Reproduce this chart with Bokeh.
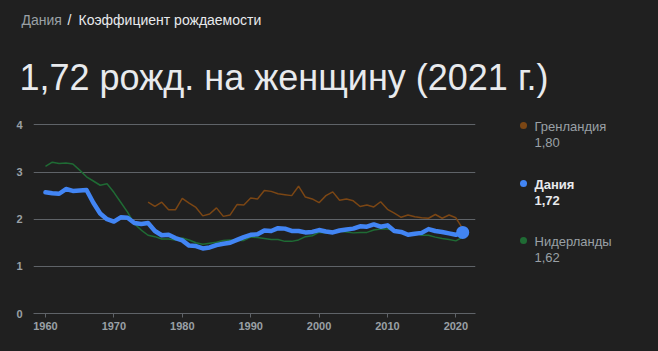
from bokeh.plotting import figure
from bokeh.models import Range1d, FixedTicker
from bokeh.layouts import column, row
from bokeh.core.properties import value
from bokeh.embed import file_html
from bokeh.resources import INLINE

# ---------------- data ----------------
years = list(range(1960, 2022))
denmark = [2.57, 2.55, 2.54, 2.64, 2.60, 2.61, 2.62, 2.35, 2.12, 2.00,
           1.95, 2.04, 2.03, 1.92, 1.90, 1.92, 1.75, 1.66, 1.67, 1.60,
           1.55, 1.44, 1.43, 1.38, 1.40, 1.45, 1.48, 1.50, 1.56, 1.62,
           1.67, 1.68, 1.76, 1.75, 1.81, 1.80, 1.75, 1.75, 1.72, 1.73,
           1.77, 1.74, 1.72, 1.76, 1.78, 1.80, 1.85, 1.84, 1.89, 1.84,
           1.87, 1.75, 1.73, 1.67, 1.69, 1.71, 1.79, 1.75, 1.73, 1.70,
           1.67, 1.72]
netherlands = [3.12, 3.21, 3.18, 3.19, 3.17, 3.04, 2.90, 2.81, 2.72, 2.75,
               2.57, 2.36, 2.15, 1.90, 1.77, 1.66, 1.63, 1.58, 1.58, 1.56,
               1.60, 1.56, 1.50, 1.47, 1.49, 1.51, 1.55, 1.56, 1.55, 1.55,
               1.62, 1.61, 1.59, 1.57, 1.57, 1.53, 1.53, 1.56, 1.63, 1.65,
               1.72, 1.71, 1.73, 1.75, 1.73, 1.71, 1.72, 1.72, 1.77, 1.79,
               1.79, 1.76, 1.72, 1.68, 1.71, 1.66, 1.66, 1.62, 1.59, 1.57,
               1.54, 1.62]
greenland_years = list(range(1975, 2022))
greenland = [2.36, 2.27, 2.36, 2.20, 2.20, 2.44, 2.34, 2.25, 2.07, 2.11,
             2.24, 2.06, 2.09, 2.31, 2.30, 2.45, 2.43, 2.61, 2.59, 2.54,
             2.52, 2.50, 2.70, 2.47, 2.43, 2.35, 2.50, 2.58, 2.40, 2.43,
             2.39, 2.27, 2.30, 2.26, 2.37, 2.21, 2.13, 2.04, 2.09, 2.05,
             2.03, 2.02, 2.10, 2.02, 2.09, 2.03, 1.80]
y_ticks = [0, 1, 2, 3, 4]
x_ticks = [1960, 1970, 1980, 1990, 2000, 2010, 2020]
series_names = ["Гренландия", "Дания", "Нидерланды"]
header_country = "Дания"
header_topic = "Коэффициент рождаемости"
title_text = "1,72 рожд. на женщину (2021 г.)"

# ---------------- style ----------------
BG = "#202020"
GRID = "#5f6368"
TXT = "#e8eaed"
MUTED = "#9aa0a6"
BLUE = "#4285f4"
BROWN = "#7b4614"
GREEN = "#1f6b34"
FONT = value("Liberation Sans")
BGSTYLE = {"background-color": BG}

W = 658
HEAD_H = 105
CHART_W = 500
BODY_H = 351 - HEAD_H

# chart frame (absolute page px)
FL, FR = 33, 475
FT_ABS, FB_ABS = 110, 313
PX_PER_UNIT = 47.15
Y_TOP = (FB_ABS - FT_ABS) / PX_PER_UNIT


def blank_fig(w, h, xr, yr, **kw):
    f = figure(width=w, height=h, output_backend="svg", toolbar_location=None,
               title=None, x_range=Range1d(*xr), y_range=Range1d(*yr),
               min_border=0, background_fill_color=BG, border_fill_color=BG,
               outline_line_color=None, styles=BGSTYLE, **kw)
    f.axis.visible = False
    f.grid.grid_line_color = None
    return f


# ---------------- header ----------------
head = blank_fig(W, HEAD_H, (0, W), (HEAD_H, 0),
                 min_border_left=0, min_border_right=0,
                 min_border_top=0, min_border_bottom=0)
head.text(x=[21], y=[19], text=[header_country], text_color=MUTED,
          text_font=FONT, text_font_size="14px", text_baseline="middle")
head.text(x=[67], y=[19], text=["/"], text_color=TXT,
          text_font=FONT, text_font_size="14px", text_baseline="middle")
head.text(x=[78], y=[19], text=[header_topic], text_color=TXT,
          text_font=FONT, text_font_size="14px", text_baseline="middle")
head.text(x=[19], y=[77], text=[title_text], text_color=TXT,
          text_font=FONT, text_font_size="36px", text_baseline="middle")

# ---------------- chart ----------------
p = figure(width=CHART_W, height=BODY_H, output_backend="svg", toolbar_location=None,
           title=None, x_range=Range1d(1958.25, 2022.87), y_range=Range1d(0, Y_TOP),
           min_border_left=FL, min_border_right=CHART_W - FR,
           min_border_top=FT_ABS - HEAD_H, min_border_bottom=351 - FB_ABS,
           background_fill_color=BG, border_fill_color=BG,
           outline_line_color=None, styles=BGSTYLE)

p.xaxis.ticker = FixedTicker(ticks=x_ticks)
p.yaxis.ticker = FixedTicker(ticks=y_ticks)
p.xaxis.axis_line_color = GRID
p.xaxis.major_tick_line_color = GRID
p.xaxis.major_tick_out = 4
p.xaxis.major_tick_in = 0
p.xaxis.minor_tick_line_color = None
p.xaxis.major_label_standoff = 4
p.yaxis.axis_line_color = None
p.yaxis.major_tick_line_color = None
p.yaxis.minor_tick_line_color = None
p.yaxis.major_label_standoff = 5
for ax in (p.xaxis, p.yaxis):
    ax.major_label_text_color = MUTED
    ax.major_label_text_font = "Liberation Sans"
    ax.major_label_text_font_size = "11px"
    ax.major_label_text_font_style = "bold"
p.xgrid.grid_line_color = None
p.ygrid.grid_line_color = GRID
p.ygrid.grid_line_width = 1

p.line(greenland_years, greenland, line_color=BROWN, line_width=1.5)
p.line(years, netherlands, line_color=GREEN, line_width=1.5)
p.line(years, denmark, line_color=BLUE, line_width=4.5, line_join="round", line_cap="round")
p.scatter([years[-1]], [denmark[-1]], size=13, fill_color=BLUE, line_color=None)

# ---------------- legend ----------------
leg = blank_fig(W - CHART_W, BODY_H, (CHART_W, W), (FB_ABS, FT_ABS),
                min_border_left=0, min_border_right=0,
                min_border_top=FT_ABS - HEAD_H, min_border_bottom=351 - FB_ABS)


def fmt(v):
    return f"{v:.2f}".replace(".", ",")


legend_items = [
    (series_names[0], greenland[-1], BROWN, MUTED, "normal", 126),
    (series_names[1], denmark[-1], BLUE, TXT, "bold", 184),
    (series_names[2], netherlands[-1], GREEN, MUTED, "normal", 241),
]
for name, val, col, tcol, st, py in legend_items:
    leg.scatter([523], [py - 1], size=7, fill_color=col, line_color=None)
    leg.text(x=[534], y=[py], text=[name], text_color=tcol, text_font=FONT,
             text_font_size="13px", text_font_style=st, text_baseline="middle")
    leg.text(x=[534], y=[py + 16], text=[fmt(val)], text_color=tcol, text_font=FONT,
             text_font_size="13px", text_font_style=st, text_baseline="middle")

layout = column(head, row(p, leg, spacing=0, styles=BGSTYLE), spacing=0, styles=BGSTYLE)
open("out.html", "w").write(file_html(layout, INLINE))
